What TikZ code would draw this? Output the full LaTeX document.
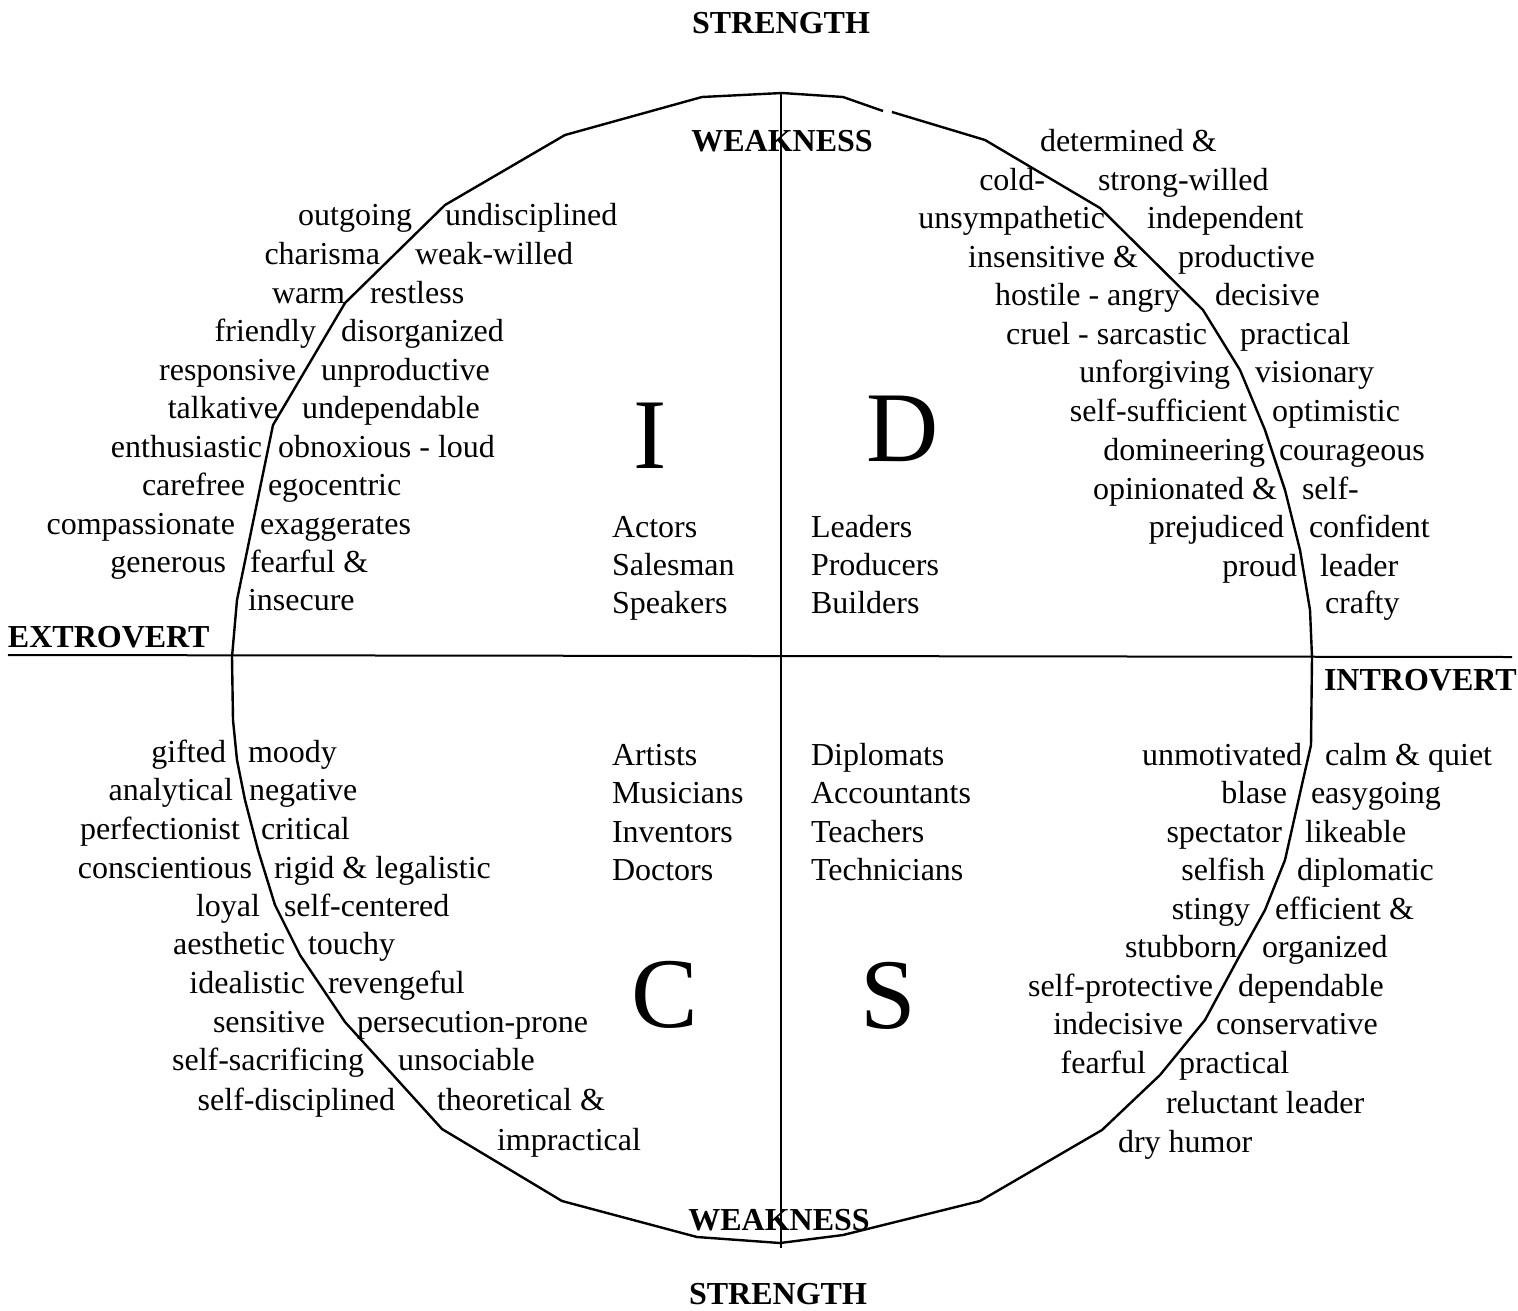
\documentclass[tikz,border=0pt]{standalone}
\usepackage{fontspec}
\setmainfont{Liberation Serif}
\begin{document}
\begin{tikzpicture}[x=1pt,y=-1pt,
  every node/.style={inner sep=0pt, outer sep=0pt, font=\fontsize{32}{38}\selectfont},
  wl/.style={anchor=base east},
  wr/.style={anchor=base west},
  hd/.style={anchor=base, font=\fontsize{32}{38}\selectfont\bfseries},
  side/.style={anchor=base west, font=\fontsize{32}{38}\selectfont\bfseries},
  big/.style={anchor=base, font=\fontsize{100}{110}\selectfont},
  job/.style={anchor=base west},
  outline/.style={line width=2.4pt, line join=round},
  axis/.style={line width=2pt}]
\useasboundingbox (0,0) rectangle (1518,1310);
\fill[white] (0,0) rectangle (1518,1310);

% axes
\coordinate (vt) at (781,93);
\coordinate (vb) at (781,1248);
\coordinate (hl) at (8,655);
\coordinate (hr) at (1512,657);
\draw[axis] (vt) -- (vb);
\draw[axis] (hl) -- (hr);

% outline
\draw[outline] (883,111) -- (843,97) -- (782,93) -- (702,97) -- (565,135) -- (445,205)
  -- (345,303) -- (273,425) -- (237,600) -- (232,657) -- (233,720) -- (237,760)
  -- (245,800) -- (258,850) -- (275,905) -- (300,955) -- (345,1022) -- (442,1129)
  -- (562,1201) -- (697,1237) -- (780,1243) -- (843,1235) -- (980,1201) -- (1102,1130)
  -- (1160,1075) -- (1205,1020) -- (1240,955) -- (1265,910) -- (1285,860) -- (1303,780)
  -- (1311,745) -- (1312,657) -- (1310,610) -- (1300,550) -- (1285,490) -- (1265,430)
  -- (1240,370) -- (1203,310) -- (1100,208) -- (985,140) -- (892,112);

% headings
\node[hd] (st) at (781,33) {STRENGTH};
\node[hd] (wt) at (782,151) {WEAKNESS};
\node[hd] (wb) at (779,1230) {WEAKNESS};
\node[hd] (sb) at (778,1304) {STRENGTH};
\node[side] (ex) at (8,647) {EXTROVERT};
\node[side] (in) at (1324,690) {INTROVERT};

% big letters
\node[big] (bI) at (650,468) {I};
\node[big] (bD) at (903,461) {D};
\node[big] (bC) at (665,1027) {C};
\node[big] (bS) at (888,1028) {S};

% occupations
\foreach \t/\x/\y [count=\n] in {Actors/612/537, Salesman/612/575, Speakers/612/613,
  Leaders/811/537, Producers/811/575, Builders/811/613,
  Artists/612/765, Musicians/612/803, Inventors/612/842, Doctors/612/880,
  Diplomats/811/765, Accountants/811/803, Teachers/811/842, Technicians/811/880}
  \node[job] (job\n) at (\x,\y) {\t};

% I quadrant
\foreach \t/\x/\y [count=\n] in {outgoing/412/225, charisma/380/264, warm/345/303,
  friendly/316/341, responsive/296/380, talkative/278/418, enthusiastic/262/457,
  carefree/245/495, compassionate/235/534, generous/226/572}
  \node[wl] (il\n) at (\x,\y) {\t};
\foreach \t/\x/\y [count=\n] in {undisciplined/445/225, weak-willed/415/264,
  restless/370/303, disorganized/341/341, unproductive/321/380, undependable/302/418,
  obnoxious - loud/278/457, egocentric/268/495, exaggerates/260/534,
  fearful \&/250/572, insecure/248/610}
  \node[wr] (ir\n) at (\x,\y) {\t};

% D quadrant
\foreach \t/\x/\y [count=\n] in {cold-/1045/190, unsympathetic/1105/228,
  insensitive \&/1138/267, hostile - angry/1180/305, cruel - sarcastic/1207/344,
  unforgiving/1230/382, self-sufficient/1247/421, domineering/1265/460,
  opinionated \&/1277/499, prejudiced/1284/537, proud/1297/576}
  \node[wl] (dl\n) at (\x,\y) {\t};
\foreach \t/\x/\y [count=\n] in {determined \&/1040/151, strong-willed/1098/190,
  independent/1147/228, productive/1178/267, decisive/1215/305, practical/1240/344,
  visionary/1255/382, optimistic/1272/421, courageous/1279/460, self-/1302/499,
  confident/1309/537, leader/1320/576, crafty/1325/613}
  \node[wr] (dr\n) at (\x,\y) {\t};

% C quadrant
\foreach \t/\x/\y [count=\n] in {gifted/226/762, analytical/233/800,
  perfectionist/240/839, conscientious/252/878, loyal/260/916, aesthetic/285/954,
  idealistic/305/993, sensitive/325/1032, self-sacrificing/364/1070,
  self-disciplined/395/1110}
  \node[wl] (cl\n) at (\x,\y) {\t};
\foreach \t/\x/\y [count=\n] in {moody/248/762, negative/249/800, critical/261/839,
  rigid \& legalistic/274/878, self-centered/284/916, touchy/308/954,
  revengeful/328/993, persecution-prone/357/1032, unsociable/398/1070,
  theoretical \&/437/1110, impractical/497/1150}
  \node[wr] (cr\n) at (\x,\y) {\t};

% S quadrant
\foreach \t/\x/\y [count=\n] in {unmotivated/1302/765, blase/1287/803,
  spectator/1282/842, selfish/1265/880, stingy/1250/919, stubborn/1237/957,
  self-protective/1213/996, indecisive/1183/1034, fearful/1146/1073}
  \node[wl] (sl\n) at (\x,\y) {\t};
\foreach \t/\x/\y [count=\n] in {calm \& quiet/1325/765, easygoing/1311/803,
  likeable/1305/842, diplomatic/1297/880, efficient \&/1275/919, organized/1262/957,
  dependable/1238/996, conservative/1216/1034, practical/1179/1073,
  reluctant leader/1166/1113, dry humor/1118/1152}
  \node[wr] (sr\n) at (\x,\y) {\t};
\end{tikzpicture}
\end{document}
